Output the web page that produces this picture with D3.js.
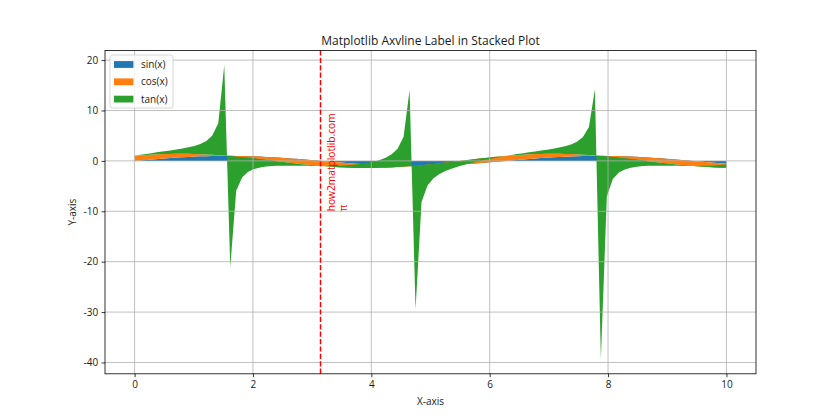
<!DOCTYPE html>
<html>
<head>
<meta charset="utf-8">
<script src="https://cdn.jsdelivr.net/npm/d3@7"></script>
<style>
  body { margin: 0; background: #fff; }
  svg { display: block; }
  text { font-family: "Open Sans", "Noto Sans", sans-serif; fill: #1a1a1a; }
</style>
</head>
<body>
<svg id="chart" width="840" height="420"></svg>
<script>
// ---- data ----
const xValues = [0, 0.101, 0.202, 0.303, 0.404, 0.505, 0.606, 0.707, 0.808, 0.909,
  1.0101, 1.1111, 1.2121, 1.3131, 1.4141, 1.5152, 1.6162, 1.7172, 1.8182, 1.9192,
  2.0202, 2.1212, 2.2222, 2.3232, 2.4242, 2.5253, 2.6263, 2.7273, 2.8283, 2.9293,
  3.0303, 3.1313, 3.2323, 3.3333, 3.4343, 3.5354, 3.6364, 3.7374, 3.8384, 3.9394,
  4.0404, 4.1414, 4.2424, 4.3434, 4.4444, 4.5455, 4.6465, 4.7475, 4.8485, 4.9495,
  5.0505, 5.1515, 5.2525, 5.3535, 5.4545, 5.5556, 5.6566, 5.7576, 5.8586, 5.9596,
  6.0606, 6.1616, 6.2626, 6.3636, 6.4646, 6.5657, 6.6667, 6.7677, 6.8687, 6.9697,
  7.0707, 7.1717, 7.2727, 7.3737, 7.4747, 7.5758, 7.6768, 7.7778, 7.8788, 7.9798,
  8.0808, 8.1818, 8.2828, 8.3838, 8.4848, 8.5859, 8.6869, 8.7879, 8.8889, 8.9899,
  9.0909, 9.1919, 9.2929, 9.3939, 9.4949, 9.596, 9.697, 9.798, 9.899, 10];

const sinValues = [0, 0.1008, 0.2007, 0.2984, 0.3931, 0.4839, 0.5696, 0.6496, 0.7230, 0.7889,
  0.8469, 0.8962, 0.9364, 0.9670, 0.9878, 0.9985, 0.9990, 0.9893, 0.9696, 0.9399,
  0.9007, 0.8523, 0.7952, 0.7300, 0.6574, 0.5781, 0.4928, 0.4026, 0.3082, 0.2107,
  0.1111, 0.0103, -0.0906, -0.1906, -0.2886, -0.3837, -0.4748, -0.5612, -0.6418, -0.7158,
  -0.7826, -0.8414, -0.8916, -0.9327, -0.9643, -0.9861, -0.9978, -0.9994, -0.9908, -0.9720,
  -0.9434, -0.9051, -0.8576, -0.8014, -0.7370, -0.6651, -0.5864, -0.5017, -0.4120, -0.3180,
  -0.2208, -0.1213, -0.0206, 0.0804, 0.1805, 0.2787, 0.3742, 0.4658, 0.5526, 0.6338,
  0.7086, 0.7762, 0.8358, 0.8869, 0.9290, 0.9616, 0.9843, 0.9971, 0.9997, 0.9921,
  0.9744, 0.9467, 0.9095, 0.8629, 0.8075, 0.7439, 0.6727, 0.5947, 0.5106, 0.4213,
  0.3277, 0.2308, 0.1315, 0.0308, -0.0701, -0.1704, -0.2688, -0.3646, -0.4566, -0.5440];

const cosValues = [1, 0.9949, 0.9797, 0.9544, 0.9195, 0.8752, 0.8219, 0.7603, 0.6909, 0.6145,
  0.5318, 0.4437, 0.3510, 0.2548, 0.1560, 0.0556, -0.0454, -0.1459, -0.2449, -0.3414,
  -0.4344, -0.5230, -0.6063, -0.6834, -0.7536, -0.8160, -0.8701, -0.9154, -0.9513, -0.9776,
  -0.9938, -0.9999, -0.9959, -0.9817, -0.9575, -0.9235, -0.8801, -0.8277, -0.7669, -0.6983,
  -0.6225, -0.5405, -0.4529, -0.3606, -0.2648, -0.1662, -0.0659, 0.0351, 0.1357, 0.2349,
  0.3317, 0.4252, 0.5143, 0.5981, 0.6759, 0.7468, 0.8100, 0.8650, 0.9112, 0.9481,
  0.9753, 0.9926, 0.9998, 0.9968, 0.9836, 0.9604, 0.9274, 0.8849, 0.8334, 0.7735,
  0.7056, 0.6306, 0.5491, 0.4620, 0.3702, 0.2747, 0.1763, 0.0761, -0.0248, -0.1255,
  -0.2249, -0.3220, -0.4158, -0.5054, -0.5899, -0.6683, -0.7399, -0.8039, -0.8598, -0.9069,
  -0.9448, -0.9730, -0.9913, -0.9995, -0.9975, -0.9854, -0.9632, -0.9312, -0.8897, -0.8391];

const tanValues = [0, 0.1014, 0.2048, 0.3127, 0.4276, 0.5529, 0.6931, 0.8544, 1.0464, 1.2840,
  1.5926, 2.0200, 2.6674, 3.7947, 6.3312, 17.953, -22.028, -6.7829, -3.9595, -2.7532,
  -2.0733, -1.6295, -1.3116, -1.0682, -0.8724, -0.7084, -0.5664, -0.4398, -0.3240, -0.2156,
  -0.1118, -0.0103, 0.0910, 0.1941, 0.3014, 0.4155, 0.5395, 0.6780, 0.8368, 1.0251,
  1.2571, 1.5568, 1.9688, 2.5862, 3.6424, 5.9346, 15.147, -28.490, -7.3023, -4.1382,
  -2.8440, -2.1289, -1.6678, -1.3399, -1.0905, -0.8907, -0.7239, -0.5800, -0.4521, -0.3354,
  -0.2263, -0.1222, -0.0206, 0.0806, 0.1835, 0.2902, 0.4035, 0.5263, 0.6631, 0.8195,
  1.0043, 1.2309, 1.5222, 1.9197, 2.5092, 3.5010, 5.5837, 13.097, -40.305, -7.9061,
  -4.3327, -2.9403, -2.1871, -1.7073, -1.3690, -1.1132, -0.9093, -0.7397, -0.5939, -0.4645,
  -0.3469, -0.2372, -0.1326, -0.0309, 0.0703, 0.1729, 0.2791, 0.3916, 0.5133, 0.6484];

const seriesNames = ["sin(x)", "cos(x)", "tan(x)"];
const seriesColors = ["#1f77b4", "#ff7f0e", "#2ca02c"];
const xTicks = [0, 2, 4, 6, 8, 10];
const yTicks = [-40, -30, -20, -10, 0, 10, 20];
const vlineX = 3.14159;
const vlineText = ["how2matplotlib.com", "π"];
const vlineTextPos = [3.24159, -10];

// ---- layout ----
const m = { left: 105, right: 756, top: 50.4, bottom: 373.8 };
const svg = d3.select("#chart");

// stacked data
const stacked = xValues.map((xv, i) => {
  const a = sinValues[i], b = a + cosValues[i], c = b + tanValues[i];
  return { x: xv, l: [[0, a], [a, b], [b, c]] };
});

const xMin = d3.min(xValues), xMax = d3.max(xValues);
const xPad = (xMax - xMin) * 0.05;
const x = d3.scaleLinear().domain([xMin - xPad, xMax + xPad]).range([m.left, m.right]);

const allY = [0];
stacked.forEach(s => s.l.forEach(p => allY.push(p[0], p[1])));
const yLo = d3.min(allY), yHi = d3.max(allY), yPad = (yHi - yLo) * 0.05;
const y = d3.scaleLinear().domain([yLo - yPad, yHi + yPad]).range([m.bottom, m.top]);

// fills
const plot = svg.append("g");
seriesNames.forEach((name, k) => {
  const area = d3.area()
    .x(d => x(d.x))
    .y0(d => y(d.l[k][0]))
    .y1(d => y(d.l[k][1]));
  plot.append("path").datum(stacked).attr("d", area).attr("fill", seriesColors[k]).attr("stroke", "none");
});

// grid (drawn above fills like matplotlib)
const grid = svg.append("g");
xTicks.forEach(t => grid.append("line").attr("x1", x(t)).attr("x2", x(t)).attr("y1", m.top).attr("y2", m.bottom)
  .attr("stroke", "#b0b0b0").attr("stroke-width", 0.8));
yTicks.forEach(t => grid.append("line").attr("x1", m.left).attr("x2", m.right).attr("y1", y(t)).attr("y2", y(t))
  .attr("stroke", "#b0b0b0").attr("stroke-width", 0.8));

// vertical line
svg.append("line").attr("x1", x(vlineX)).attr("x2", x(vlineX)).attr("y1", m.top).attr("y2", m.bottom)
  .attr("stroke", "#ff0000").attr("stroke-width", 1.5).attr("stroke-dasharray", "5.2,2.2");

// vline text
const tx = x(vlineTextPos[0]) + 8.5, ty = y(vlineTextPos[1]);
const vt = svg.append("text").attr("transform", `translate(${tx},${ty}) rotate(-90)`)
  .style("font-size", "10.2px").style("fill", "#ff0000");
vlineText.forEach((s, i) => vt.append("tspan").attr("x", 0).attr("y", i * 11.7).text(s));

// axes frame
svg.append("rect").attr("x", m.left).attr("y", m.top).attr("width", m.right - m.left).attr("height", m.bottom - m.top)
  .attr("fill", "none").attr("stroke", "#000").attr("stroke-width", 0.8);

// axes
const fmt = d => String(d);
const xAxis = d3.axisBottom(x).tickValues(xTicks).tickSize(3.4).tickPadding(3.4).tickFormat(fmt);
const gx = svg.append("g").attr("transform", `translate(0,${m.bottom})`).call(xAxis);
const yAxis = d3.axisLeft(y).tickValues(yTicks).tickSize(3.4).tickPadding(3.4).tickFormat(fmt);
const gy = svg.append("g").attr("transform", `translate(${m.left},0)`).call(yAxis);
[gx, gy].forEach(g => {
  g.select(".domain").remove();
  g.selectAll(".tick line").attr("stroke", "#000").attr("stroke-width", 0.8);
  g.selectAll(".tick text").style("font-size", "10px").style("font-family", '"Open Sans", sans-serif').attr("fill", "#1a1a1a");
});

// labels
svg.append("text").attr("x", (m.left + m.right) / 2).attr("y", 45).attr("text-anchor", "middle")
  .style("font-size", "12px").text("Matplotlib Axvline Label in Stacked Plot");
svg.append("text").attr("x", (m.left + m.right) / 2).attr("y", 405).attr("text-anchor", "middle")
  .style("font-size", "10px").text("X-axis");
svg.append("text").attr("transform", `translate(76,${(m.top + m.bottom) / 2}) rotate(-90)`).attr("text-anchor", "middle")
  .style("font-size", "10px").text("Y-axis");

// legend
const lg = svg.append("g").attr("transform", `translate(${m.left + 5},${m.top + 4.6})`);
lg.append("rect").attr("x", 0).attr("y", 0).attr("width", 63).attr("height", 53).attr("rx", 2.5)
  .attr("fill", "#fff").attr("fill-opacity", 0.8).attr("stroke", "#cccccc").attr("stroke-width", 0.8);
seriesNames.forEach((name, k) => {
  const cy = 9.5 + k * 17.3;
  lg.append("rect").attr("x", 4).attr("y", cy - 3.4).attr("width", 19.4).attr("height", 6.8).attr("fill", seriesColors[k]);
  lg.append("text").attr("x", 31).attr("y", cy + 3.6).style("font-size", "10px").text(name);
});
</script>
</body>
</html>
